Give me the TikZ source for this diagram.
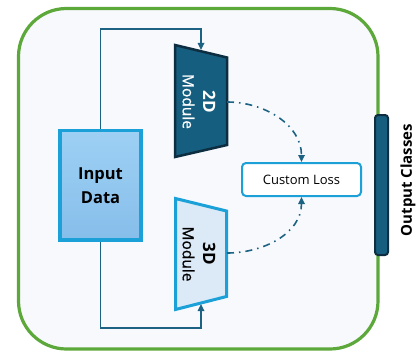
\documentclass[tikz,border=0pt]{standalone}
\usepackage{fontspec}
\setmainfont{Open Sans}
\newfontfamily\semibold[FakeBold=0.7]{Open Sans}
\usetikzlibrary{arrows.meta}
\definecolor{framegreen}{HTML}{5DA83B}
\definecolor{panel}{HTML}{F7F9FD}
\definecolor{cyanline}{HTML}{1BA1D8}
\definecolor{deepteal}{HTML}{165E80}
\definecolor{darkedge}{HTML}{0D2D40}
\definecolor{paleblue}{HTML}{DCEAF7}
\definecolor{linkcol}{HTML}{1D6283}
\definecolor{inputtop}{HTML}{9ED0F4}
\definecolor{inputbot}{HTML}{86BEEA}

\begin{document}
\begin{tikzpicture}[x=1pt,y=1pt,
    link/.style={linkcol, line width=1.6pt, -{Triangle[length=7pt,width=6.5pt]}},
    lossarrow/.style={link, dash pattern=on 7pt off 5pt on 1.5pt off 5pt},
    modtext/.style={rotate=-90, align=center, inner sep=0pt, font=\fontsize{15.5}{20.5}\selectfont\semibold}]
    \useasboundingbox (0,0) rectangle (419,354);
    \draw[framegreen, line width=3.2pt, fill=panel, rounded corners=48pt] (18.5,5) rectangle (378,345.5);

    \node[draw=cyanline, line width=3.5pt, top color=inputtop, bottom color=inputbot,
          minimum width=81pt, minimum height=109.5pt, inner sep=0pt, align=center,
          font=\fontsize{16.5}{24}\selectfont\bfseries] (input) at (100.5,168.75) {Input\\Data};

    \draw[fill=deepteal, draw=darkedge, line width=2.5pt] (175,309) -- (227,296.5) -- (227,209) -- (175,197) -- cycle;
    \coordinate (m2d-in) at (201,304);
    \coordinate (m2d-out) at (227,252);
    \node[modtext, text=white] (m2d) at (199,252.5) {{\normalfont\bfseries\fontsize{17}{20.5}\selectfont 2D}\\Module};

    \draw[fill=paleblue, draw=cyanline, line width=3pt] (175.5,155.5) -- (226.5,143) -- (226.5,57.5) -- (175.5,44.5) -- cycle;
    \coordinate (m3d-in) at (201,50);
    \coordinate (m3d-out) at (227,101);
    \node[modtext] (m3d) at (199,100) {{\normalfont\bfseries\fontsize{17}{20.5}\selectfont 3D}\\Module};

    \node[draw=cyanline, fill=white, line width=2pt, rounded corners=4pt, minimum width=119pt, minimum height=33pt,
          font=\fontsize{13}{16}\selectfont] (loss) at (301.5,174.5) {Custom Loss};

    \coordinate (topturn) at (201,325);
    \coordinate (botturn) at (201,26);
    \draw[link] (input.north) |- (topturn) -- (m2d-in);
    \draw[link] (input.south) |- (botturn) -- (m3d-in);
    \draw[lossarrow] (m2d-out) to[out=0,in=90] (loss.north);
    \draw[lossarrow] (m3d-out) to[out=0,in=-90] (loss.south);

    \node[draw=darkedge, fill=deepteal, line width=2pt, rounded corners=3pt, minimum width=13pt, minimum height=140pt,
          inner sep=0pt] (outbar) at (381.5,169) {};
    \node[rotate=90, inner sep=0pt, font=\fontsize{15}{18}\selectfont\bfseries] (outlabel) at (408,174) {Output Classes};
\end{tikzpicture}
\end{document}
